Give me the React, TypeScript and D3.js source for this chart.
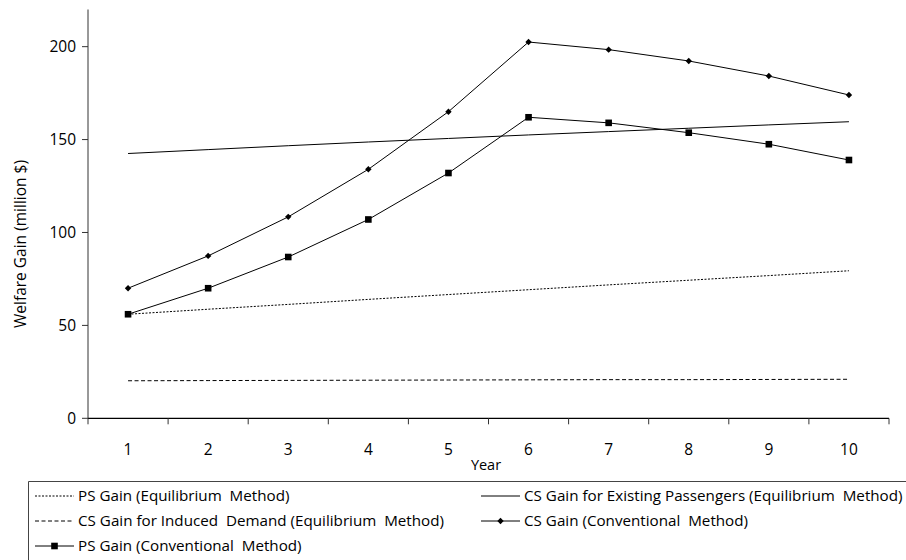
import React from "react";
import * as d3 from "d3";

const years = [1, 2, 3, 4, 5, 6, 7, 8, 9, 10];
const psEquilibrium = [56, 58.7, 61.3, 64, 66.6, 69.2, 71.8, 74.3, 76.8, 79.4];
const csExisting = [142.5, 144.6, 146.7, 148.7, 150.6, 152.5, 154.3, 156.1, 157.9, 159.6];
const csInduced = [20.2, 20.3, 20.4, 20.5, 20.6, 20.7, 20.8, 20.8, 20.9, 21];
const csConventional = [70, 87.4, 108.4, 134, 165, 202.5, 198.4, 192.3, 184.2, 174];
const psConventional = [56, 70, 86.8, 107, 132, 162, 159, 153.7, 147.5, 139];
const yTicks = [0, 50, 100, 150, 200];

const W = 906, H = 560;
const FONT = "'Open Sans', sans-serif";

export default function App() {
  const x = d3.scaleBand<number>().domain(years).range([88, 889]);
  const y = d3.scaleLinear().domain([0, 220]).range([418.3, 9.5]);
  const cx = (d: number) => (x(d) as number) + x.bandwidth() / 2;
  const line = d3.line<number>().x((_, i) => cx(years[i])).y((v) => y(v));

  const series = [
    { name: "PS Gain (Equilibrium  Method)", data: psEquilibrium, dash: "2,1.5", marker: null, lx: 35, ly: 496 },
    { name: "CS Gain for Existing Passengers (Equilibrium  Method)", data: csExisting, dash: null, marker: null, lx: 481, ly: 496 },
    { name: "CS Gain for Induced  Demand (Equilibrium  Method)", data: csInduced, dash: "4,2.5", marker: null, lx: 35, ly: 521 },
    { name: "CS Gain (Conventional  Method)", data: csConventional, dash: null, marker: "diamond", lx: 481, ly: 521 },
    { name: "PS Gain (Conventional  Method)", data: psConventional, dash: null, marker: "square", lx: 35, ly: 546 },
  ];

  const bandEdges = years.map((d) => x(d) as number).concat([889]);

  const marker = (type: string | null, px: number, py: number, key: string) => {
    if (type === "diamond") {
      return <path key={key} d={`M${px},${py - 3.2}L${px + 3.2},${py}L${px},${py + 3.2}L${px - 3.2},${py}Z`} fill="#000" />;
    }
    if (type === "square") {
      return <rect key={key} x={px - 3.3} y={py - 3.3} width={6.6} height={6.6} fill="#000" />;
    }
    return null;
  };

  return (
    <svg width={W} height={H} style={{ position: "absolute", left: 0, top: 0, background: "#fff" }}>
      <rect width={W} height={H} fill="#fff" />
      {/* axes */}
      <line x1={88} x2={88} y1={y(220)} y2={y(0)} stroke="#333" strokeWidth={1} />
      <line x1={88} x2={889} y1={y(0)} y2={y(0)} stroke="#000" strokeWidth={1.2} />
      {yTicks.map((t) => (
        <g key={t}>
          <line x1={82} x2={88} y1={y(t)} y2={y(t)} stroke="#333" />
          <text x={76} y={y(t)} dy="0.35em" textAnchor="end" fontFamily={FONT} fontSize={15.5} fill="#000">{t}</text>
        </g>
      ))}
      {bandEdges.map((e, i) => (
        <line key={i} x1={e} x2={e} y1={y(0)} y2={y(0) + 6} stroke="#333" />
      ))}
      {years.map((d) => (
        <text key={d} x={cx(d)} y={450} dy="0.35em" textAnchor="middle" fontFamily={FONT} fontSize={15.5} fill="#000">{d}</text>
      ))}
      <text x={486} y={465} dy="0.35em" textAnchor="middle" fontFamily={FONT} fontSize={14.5} fill="#000">Year</text>
      <text transform="translate(21,244) rotate(-90)" textAnchor="middle" dy="0.35em" fontFamily={FONT} fontSize={15.5} fill="#000">Welfare Gain (million $)</text>

      {/* series */}
      {series.map((s, si) => (
        <g key={si}>
          <path d={line(s.data) || ""} fill="none" stroke="#000" strokeWidth={1} strokeDasharray={s.dash || undefined} />
          {s.marker && s.data.map((v, i) => marker(s.marker, cx(years[i]), y(v), `${si}-${i}`))}
        </g>
      ))}

      {/* legend */}
      <path d={`M28.5,${H}V481.5H${W}`} fill="none" stroke="#444" strokeWidth={1} />
      {series.map((s, si) => (
        <g key={si}>
          <line x1={s.lx} x2={s.lx + 39} y1={s.ly} y2={s.ly} stroke="#000" strokeWidth={1} strokeDasharray={s.dash || undefined} />
          {marker(s.marker, s.lx + 19.5, s.ly, `lg${si}`)}
          <text x={s.lx + 43} y={s.ly} dy="0.35em" fontFamily={FONT} fontSize={15.2} fill="#000" style={{ whiteSpace: "pre" }}>{s.name}</text>
        </g>
      ))}
    </svg>
  );
}
